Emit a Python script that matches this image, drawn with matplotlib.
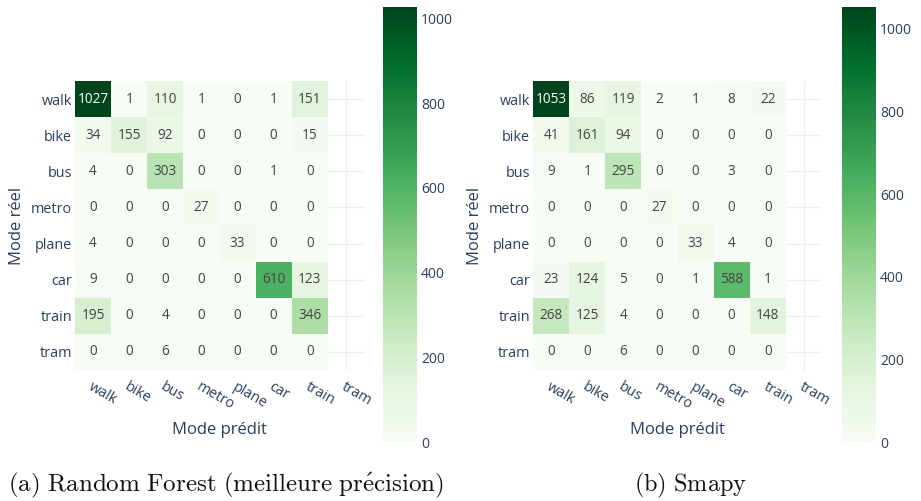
import numpy as np
import matplotlib
matplotlib.use("Agg")
import matplotlib.pyplot as plt
from matplotlib import cm, colors

plt.rcParams['font.family'] = ['Open Sans', 'DejaVu Sans']
plt.rcParams['mathtext.fontset'] = 'cm'

modes_true = ["walk", "bike", "bus", "metro", "plane", "car", "train", "tram"]
modes_pred = ["walk", "bike", "bus", "metro", "plane", "car", "train", "tram"]

rf_counts = [
    [1027, 1, 110, 1, 0, 1, 151],
    [34, 155, 92, 0, 0, 0, 15],
    [4, 0, 303, 0, 0, 1, 0],
    [0, 0, 0, 27, 0, 0, 0],
    [4, 0, 0, 0, 33, 0, 0],
    [9, 0, 0, 0, 0, 610, 123],
    [195, 0, 4, 0, 0, 0, 346],
    [0, 0, 6, 0, 0, 0, 0],
]
smapy_counts = [
    [1053, 86, 119, 2, 1, 8, 22],
    [41, 161, 94, 0, 0, 0, 0],
    [9, 1, 295, 0, 0, 3, 0],
    [0, 0, 0, 27, 0, 0, 0],
    [0, 0, 0, 0, 33, 4, 0],
    [23, 124, 5, 0, 1, 588, 1],
    [268, 125, 4, 0, 0, 0, 148],
    [0, 0, 6, 0, 0, 0, 0],
]
captions = [r"$\mathrm{(a)\ Random\ Forest\ (meilleure\ pr\acute{e}cision)}$",
            r"$\mathrm{(b)\ Smapy}$"]

W, H = 921, 501
fig = plt.figure(figsize=(W / 100, H / 100), dpi=100)
fig.patch.set_facecolor("white")

FONT_C = "#2a3f5f"
GRID_C = "#ebf0f8"


def fx(px):
    return px / W


def fy(px):
    return 1 - px / H


def panel(counts, ax_left, cb_left, caption, cap_x, cap_size):
    data = np.array(counts, dtype=float)
    nrow, ncol = data.shape
    vmax = data.max()
    norm = colors.Normalize(vmin=0, vmax=vmax)
    cmap = plt.get_cmap("Greens")

    top, bottom = 81, 370
    width = bottom - top
    ax = fig.add_axes([fx(ax_left), fy(bottom), fx(width), (bottom - top) / H])
    ax.set_facecolor("white")
    for s in ax.spines.values():
        s.set_visible(False)

    # light grid behind the cells
    ax.set_axisbelow(True)
    ax.grid(True, color=GRID_C, linewidth=1.0)

    xe = np.arange(ncol + 1) - 0.5
    ye = np.arange(nrow + 1) - 0.5
    ax.pcolormesh(xe, ye, data, cmap=cmap, norm=norm, zorder=2)

    for i in range(nrow):
        for j in range(ncol):
            v = data[i, j]
            c = "white" if v / vmax > 0.8 else "#444444"
            ax.text(j, i, f"{int(v)}", ha="center", va="center",
                    fontsize=9.8, color=c, zorder=3)

    ax.set_xlim(-0.5, len(modes_pred) - 0.5)
    ax.set_ylim(len(modes_true) - 0.5, -0.5)
    ax.set_xticks(range(len(modes_pred)))
    ax.set_yticks(range(len(modes_true)))
    ax.set_xticklabels(modes_pred, rotation=-30, ha="left", va="top",
                       rotation_mode="anchor", fontsize=10.4, color=FONT_C)
    ax.set_yticklabels(modes_true, fontsize=10.4, color=FONT_C)
    ax.tick_params(axis="both", length=0)
    ax.tick_params(axis="x", pad=7)
    ax.tick_params(axis="y", pad=2)

    fig.text(fx(ax_left + width / 2), fy(430), "Mode prédit", ha="center",
             va="center", fontsize=12, color=FONT_C)
    fig.text(fx(ax_left - 58), fy((top + bottom) / 2), "Mode réel",
             ha="center", va="center", rotation=90, fontsize=12, color=FONT_C)

    # colour bar
    cb_top, cb_bot = 7, 442
    cax = fig.add_axes([fx(cb_left), fy(cb_bot), fx(34), (cb_bot - cb_top) / H])
    cb = fig.colorbar(cm.ScalarMappable(norm=norm, cmap=cmap), cax=cax)
    cb.outline.set_visible(False)
    cb.set_ticks([0, 200, 400, 600, 800, 1000])
    cax.tick_params(length=0, pad=3, labelsize=10, labelcolor=FONT_C)

    fig.text(fx(cap_x), fy(485), caption, ha="center", va="center",
             fontsize=cap_size, color="#111111")


panel(rf_counts, 75, 383, captions[0], 226, 18)
panel(smapy_counts, 533, 842, captions[1], 691, 17.5)

fig.savefig("out.png", dpi=100, facecolor="white")
